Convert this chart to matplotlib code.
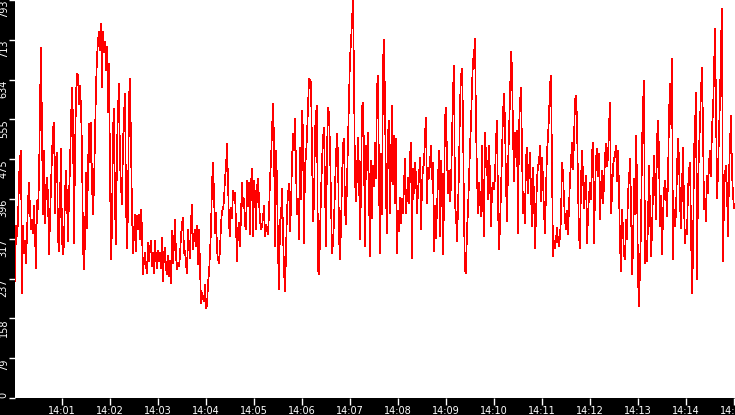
import numpy as np
import matplotlib
matplotlib.use("Agg")
import matplotlib.pyplot as plt

# readings, one per screen column, split by the six slices I zoomed into
vals_1400 = [233, 343, 323, 353, 436, 479, 493, 209, 343, 289,
             313, 269, 329, 389, 429, 376, 336, 356, 329, 383,
             326, 259, 393, 376, 433, 586, 697, 529, 366, 493,
             349, 419, 439, 403, 286, 356, 423, 486, 536, 549,
             369, 476, 489, 319, 293, 396, 496, 316, 286, 306,
             409, 453, 396, 313, 403, 463, 553, 619, 553, 309,
             483, 603, 646, 643, 586, 623, 576, 496, 303, 256,
             316, 449, 339, 453, 546, 469, 549, 426, 366, 423,
             523, 619, 679, 713, 729, 693, 746, 619, 729, 689,
             709, 653, 699, 569, 666, 453, 276, 339, 536, 576,
             383, 306, 499, 576, 626, 469, 423, 386, 506, 566,
             606, 393, 299, 376, 596, 636, 509, 373, 289, 326]

vals_1402 = [366, 293, 363, 336, 366, 316, 376, 336, 246, 276,
             289, 263, 249, 309, 273, 299, 313, 263, 289, 249,
             313, 279, 259, 293, 273, 289, 259, 319, 233, 289,
             299, 259, 246, 283, 243, 273, 229, 333, 269, 306,
             356, 283, 256, 269, 263, 283, 323, 349, 359, 289,
             293, 266, 249, 336, 303, 279, 353, 386, 296, 319,
             336, 303, 343, 266, 336, 263, 189, 209, 199, 193,
             226, 179, 183, 229, 249, 289, 336, 426, 469, 406,
             329, 369, 293, 276, 269, 296, 346, 373, 376, 393,
             439, 459, 506, 433, 346, 323, 379, 359, 413, 396,
             409, 346, 273, 336, 349, 303, 363, 429, 383, 396,
             346, 336, 433, 383, 429, 326, 429, 456, 323, 433]

vals_1405 = [403, 336, 419, 436, 396, 353, 336, 343, 359, 383,
             323, 346, 336, 326, 369, 436, 473, 533, 586, 516,
             303, 493, 433, 296, 216, 353, 359, 416, 329, 256,
             213, 289, 376, 406, 426, 333, 379, 473, 526, 493,
             556, 463, 366, 396, 316, 499, 396, 573, 529, 309,
             463, 483, 523, 579, 636, 633, 630, 493, 353, 389,
             529, 569, 583, 256, 246, 323, 409, 469, 519, 539,
             419, 303, 489, 579, 566, 499, 389, 289, 309, 353,
             419, 483, 526, 486, 323, 276, 343, 433, 506, 516,
             373, 346, 429, 516, 586, 679, 709, 753, 793.2, 639,
             433, 393, 449, 519, 449, 316, 413, 579, 589, 489,
             303, 503, 453, 529, 409, 283, 473, 359, 463, 423]

vals_1407 = [509, 439, 619, 643, 433, 289, 486, 366, 669, 713,
             589, 403, 329, 526, 553, 369, 463, 583, 426, 523,
             389, 516, 289, 373, 333, 399, 349, 396, 369, 426,
             476, 369, 403, 439, 389, 483, 509, 279, 456, 409,
             469, 443, 369, 413, 443, 479, 336, 423, 459, 466,
             526, 559, 389, 459, 439, 469, 503, 436, 469, 293,
             383, 319, 379, 436, 493, 323, 473, 433, 286, 389,
             559, 579, 476, 409, 453, 393, 423, 513, 609, 663,
             383, 366, 313, 379, 456, 586, 643, 656, 559, 359,
             253, 249, 336, 373, 436, 499, 549, 619, 673, 683,
             716, 543, 443, 369, 429, 396, 363, 503, 399, 323,
             529, 483, 469, 396, 503, 443, 343, 413, 429, 416]

vals_1410 = [439, 513, 553, 386, 296, 343, 413, 486, 569, 606,
             549, 426, 353, 459, 529, 599, 689, 659, 529, 433,
             529, 479, 533, 329, 536, 589, 619, 493, 369, 406,
             349, 479, 499, 409, 453, 489, 409, 343, 459, 403,
             299, 363, 436, 463, 469, 503, 393, 479, 436, 369,
             329, 409, 493, 519, 563, 623, 643, 463, 283, 313,
             299, 316, 339, 313, 303, 323, 359, 469, 449, 396,
             353, 336, 373, 326, 383, 436, 473, 509, 456, 513,
             593, 603, 553, 423, 323, 299, 433, 493, 446, 379,
             423, 443, 309, 363, 403, 429, 396, 489, 509, 309,
             409, 476, 496, 443, 486, 356, 419, 453, 389, 423,
             479, 506, 463, 479, 539, 589, 369, 403, 463, 476]

vals_1412 = [486, 503, 433, 493, 416, 306, 253, 376, 336, 286,
             276, 356, 316, 409, 436, 476, 393, 246, 296, 436,
             366, 523, 436, 239, 183, 263, 339, 499, 583, 633,
             269, 313, 273, 353, 463, 369, 283, 329, 416, 483,
             429, 356, 513, 553, 489, 343, 403, 286, 363, 413,
             433, 409, 363, 436, 563, 626, 546, 676, 276, 376,
             343, 369, 456, 516, 476, 389, 339, 419, 499, 383,
             309, 336, 326, 413, 453, 469, 336, 209, 283, 489,
             539, 609, 236, 423, 493, 549, 613, 659, 536, 376,
             396, 353, 443, 409, 469, 493, 443, 543, 566, 649,
             736, 583, 399, 449, 529, 596, 709, 776, 273, 396,
             449, 463, 413, 323, 443, 509, 563, 449, 403, 379]

minute_labels = ["14:%02d" % m for m in range(1, 16)]
minute_secs = [60 * m for m in range(1, 16)]

values = np.array(vals_1400 + vals_1402 + vals_1405 + vals_1407 + vals_1410 + vals_1412)
# seconds after 14:00:00, samples every 1.25 s
t = 1 + np.arange(len(values)) * 1.25

fig = plt.figure(figsize=(7.35, 4.15), dpi=100, facecolor='black')
ax = fig.add_axes([15 / 735, 17 / 415, 720 / 735, 398 / 415])
ax.set_facecolor('white')
ax.plot(t, values, color='red', lw=0.5, antialiased=False)

ax.set_xlim(1, 901)
ymax = values.max()
ax.set_ylim(0, ymax)
yt = np.arange(11) * ymax / 10
ax.set_yticks(yt, [str(int(v)) for v in yt], rotation=90, fontsize=7)
ax.set_xticks(minute_secs, minute_labels, fontsize=7)
ax.tick_params(axis='y', colors='white', labelcolor='white', length=4, width=1, pad=0.5)
ax.tick_params(axis='x', colors='white', labelcolor='white', length=5, width=1, pad=0.5)
for s in ax.spines.values():
    s.set_visible(False)

ylabels = ax.get_yticklabels()
for lbl in ylabels:
    lbl.set_va('top')
ylabels[0].set_va('bottom')

fig.savefig('out.png', dpi=100, facecolor='black')
